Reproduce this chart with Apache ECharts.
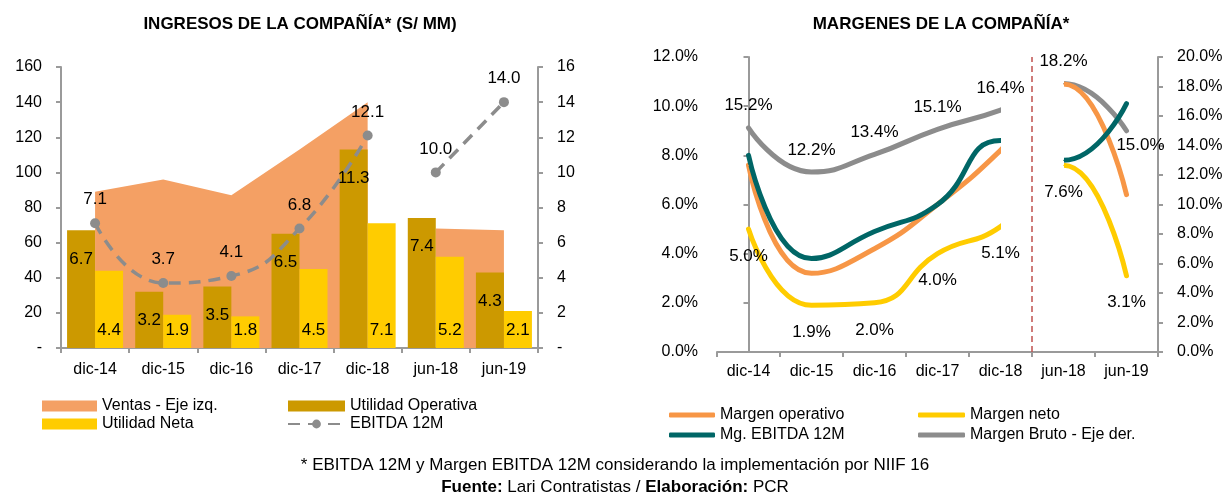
<!DOCTYPE html>
<html>
<head>
<meta charset="utf-8">
<script src="https://cdn.jsdelivr.net/npm/echarts@6/dist/echarts.min.js"></script>
<style>
  html, body { margin: 0; padding: 0; background: #fff; }
  #chart { width: 1230px; height: 495px; }
</style>
</head>
<body>
<div id="chart"></div>
<script>
// categorias (las dos ultimas son semestrales, por eso la serie se corta)
const categories = ["dic-14", "dic-15", "dic-16", "dic-17", "dic-18", "jun-18", "jun-19"];

// ingresos (S/ MM)
const ventas = [89, 96, 87, 113, 140, 68, 67];
const utilOperativa = [6.7, 3.2, 3.5, 6.5, 11.3, 7.4, 4.3];
const utilNeta = [4.4, 1.9, 1.8, 4.5, 7.1, 5.2, 2.1];
const ebitda = [7.1, 3.7, 4.1, 6.8, 12.1, 10.0, 14.0];

// margenes (%)
const margenOperativo = [7.6, 3.2, 4.2, 6.0, 8.2, 10.9, 6.4];
const margenNeto = [5.0, 1.9, 2.0, 4.0, 5.1, 7.6, 3.1];
const mgEbitda = [8.0, 3.8, 4.9, 6.0, 8.6, 7.8, 10.1];
const margenBruto = [15.2, 12.2, 13.4, 15.1, 16.4, 18.2, 15.0];

const SPLIT = 5; // indice donde empiezan los datos de junio
const seg = (arr, part) =>
  arr.map((v, i) => ((part === 0 ? i < SPLIT : i >= SPLIT) ? v : null));

const FONT = "'Liberation Sans', Arial, sans-serif";
const AXIS_COLOR = "#9a9a9a";
const txt = { color: "#000", fontFamily: FONT, fontSize: 16 };
const lbl = { color: "#000", fontFamily: FONT, fontSize: 17 };

const chart = echarts.init(document.getElementById("chart"), null, { renderer: "canvas" });

const catAxis = (gridIndex, margin) => ({
  type: "category",
  gridIndex: gridIndex,
  data: categories,
  boundaryGap: true,
  axisLine: { lineStyle: { color: AXIS_COLOR, width: 2 } },
  axisTick: { show: true, length: 5, lineStyle: { color: AXIS_COLOR, width: 2 } },
  axisLabel: { ...txt, margin: margin, interval: 0 },
  splitLine: { show: false },
});

const valAxis = (gridIndex, position, max, interval, fmt) => ({
  type: "value",
  gridIndex: gridIndex,
  position: position,
  min: 0,
  max: max,
  interval: interval,
  axisLine: { show: true, lineStyle: { color: AXIS_COLOR, width: 2 } },
  axisTick: { show: true, length: 5, lineStyle: { color: AXIS_COLOR, width: 2 } },
  axisLabel: { ...txt, margin: 19, formatter: fmt },
  splitLine: { show: false },
});

const pct = (v) => v.toFixed(1) + "%";

// series de la derecha: una linea continua, el tramo dic-18 -> jun-18 se oculta con visualMap
const FIRST_MARGIN = 6;
const marginSeries = [];
const marginMaps = [];
const addMargin = (name, arr, color, yIdx, labelOpt) => {
  marginMaps.push({
    type: "piecewise",
    show: false,
    dimension: 0,
    seriesIndex: FIRST_MARGIN + marginSeries.length,
    pieces: [
      { lte: SPLIT - 1, color: color },
      { gt: SPLIT - 1, lt: SPLIT, color: "rgba(255,255,255,0)" },
      { gte: SPLIT, color: color },
    ],
  });
  marginSeries.push({
    name: name,
    type: "line",
    color: color,
    xAxisIndex: 1,
    yAxisIndex: yIdx,
    data: arr.slice(),
    smooth: 0.5,
    symbol: "circle",
    symbolSize: 1,
    lineStyle: { width: 5, cap: "round" },
    label: labelOpt
      ? { show: true, ...lbl, formatter: (p) => pct(p.value), ...labelOpt }
      : { show: false },
    z: 3,
  });
};
addMargin("Margen Bruto - Eje der.", margenBruto, "#8c8c8c", 3, { position: "top", distance: 13 });
addMargin("Margen operativo", margenOperativo, "#f79646", 2, null);
addMargin("Mg. EBITDA 12M", mgEbitda, "#006666", 2, null);
addMargin("Margen neto", margenNeto, "#ffcc00", 2, { position: "bottom", distance: 18 });
// ultima etiqueta del margen bruto va debajo
marginSeries[0].data = marginSeries[0].data.map((v, i) =>
  i === categories.length - 1 ? { value: v, label: { position: "bottom", distance: 6, offset: [14, 0] } } : v
);

const ebitdaSeries = [0, 1].map((part) => ({
  name: "EBITDA 12M",
  type: "line",
  xAxisIndex: 0,
  yAxisIndex: 1,
  data: seg(ebitda, part),
  smooth: 0.5,
  symbol: "circle",
  symbolSize: 10,
  lineStyle: { color: "#8c8c8c", width: 3.5, type: [12, 8] },
  itemStyle: { color: "#8c8c8c" },
  label: { show: true, position: "top", distance: 10, ...lbl, formatter: (p) => p.value.toFixed(1) },
  z: 5,
}));

const ventasSeries = [0, 1].map((part) => ({
  name: "Ventas - Eje izq.",
  type: "line",
  xAxisIndex: 0,
  yAxisIndex: 0,
  data: seg(ventas, part),
  symbol: "none",
  lineStyle: { width: 0 },
  itemStyle: { color: "#f4a064" },
  areaStyle: { color: "#f4a064", opacity: 1 },
  z: 1,
}));

const lineIcon = (name) => ({ name: name, icon: "roundRect" });

const option = {
  animation: false,
  textStyle: { fontFamily: FONT },
  title: [
    {
      text: "INGRESOS DE LA COMPAÑÍA* (S/ MM)",
      left: 295, top: 11, textAlign: "center",
      textStyle: { fontFamily: FONT, fontSize: 17, fontWeight: "bold", color: "#000" },
    },
    {
      text: "MARGENES DE LA COMPAÑÍA*",
      left: 936, top: 11, textAlign: "center",
      textStyle: { fontFamily: FONT, fontSize: 17, fontWeight: "bold", color: "#000" },
    },
    {
      text: "* EBITDA 12M y Margen EBITDA 12M considerando la implementación por NIIF 16",
      left: "center", top: 452,
      textStyle: { fontFamily: FONT, fontSize: 17, fontWeight: "normal", color: "#000" },
    },
    {
      text: "{b|Fuente:} Lari Contratistas / {b|Elaboración:} PCR",
      left: "center", top: 474,
      textStyle: {
        fontFamily: FONT, fontSize: 17, fontWeight: "normal", color: "#000",
        rich: { b: { fontFamily: FONT, fontSize: 17, fontWeight: "bold", color: "#000" } },
      },
    },
  ],
  legend: [
    {
      orient: "vertical", left: 37, top: 393, itemWidth: 55, itemHeight: 11, itemGap: 2,
      textStyle: txt, selectedMode: false,
      data: [{ name: "Ventas - Eje izq.", icon: "rect" }, { name: "Utilidad Neta", icon: "rect" }],
    },
    {
      orient: "vertical", left: 282, top: 393, itemWidth: 57, itemHeight: 11, itemGap: 2,
      textStyle: txt, selectedMode: false,
      data: [{ name: "Utilidad Operativa", icon: "rect" }, { name: "EBITDA 12M" }],
    },
    {
      orient: "vertical", left: 664, top: 402, itemWidth: 46, itemHeight: 5, itemGap: 4,
      textStyle: txt, selectedMode: false,
      data: [lineIcon("Margen operativo"), lineIcon("Mg. EBITDA 12M")],
    },
    {
      orient: "vertical", left: 913, top: 402, itemWidth: 47, itemHeight: 5, itemGap: 4,
      textStyle: txt, selectedMode: false,
      data: [lineIcon("Margen neto"), lineIcon("Margen Bruto - Eje der.")],
    },
  ],
  visualMap: marginMaps,
  grid: [
    { left: 61, right: 692, top: 67, bottom: 147 },
    { left: 717, right: 72, top: 57, bottom: 143 },
  ],
  xAxis: [
    catAxis(0, 14),
    catAxis(1, 12),
    { type: "value", gridIndex: 1, min: -0.5, max: 6.5, show: false },
  ],
  yAxis: [
    valAxis(0, "left", 160, 20, (v) => (v === 0 ? "-" : v)),
    valAxis(0, "right", 16, 2, (v) => (v === 0 ? "-" : v)),
    valAxis(1, "left", 12, 2, pct),
    valAxis(1, "right", 20, 2, pct),
  ],
  series: [
    ...ventasSeries,
    {
      name: "Utilidad Operativa",
      type: "bar",
      xAxisIndex: 0,
      yAxisIndex: 1,
      data: utilOperativa,
      barWidth: 28,
      barGap: "0%",
      itemStyle: { color: "#cc9900" },
      label: { show: true, position: "insideTop", distance: 20, ...lbl, formatter: (p) => p.value.toFixed(1) },
      z: 2,
    },
    {
      name: "Utilidad Neta",
      type: "bar",
      xAxisIndex: 0,
      yAxisIndex: 1,
      data: utilNeta,
      barWidth: 28,
      barGap: "0%",
      itemStyle: { color: "#ffcc00" },
      label: { show: true, position: "insideBottom", distance: 9, ...lbl, formatter: (p) => p.value.toFixed(1) },
      z: 2,
    },
    ...ebitdaSeries,
    ...marginSeries,
    {
      // linea divisoria entre cifras anuales y semestrales
      name: "divisor",
      type: "line",
      xAxisIndex: 2,
      yAxisIndex: 2,
      data: [],
      markLine: {
        silent: true,
        symbol: "none",
        label: { show: false },
        lineStyle: { color: "#c0504d", type: [6, 4], width: 1.5 },
        data: [{ xAxis: 4.5 }],
      },
    },
  ],
};

chart.setOption(option);
</script>
</body>
</html>
